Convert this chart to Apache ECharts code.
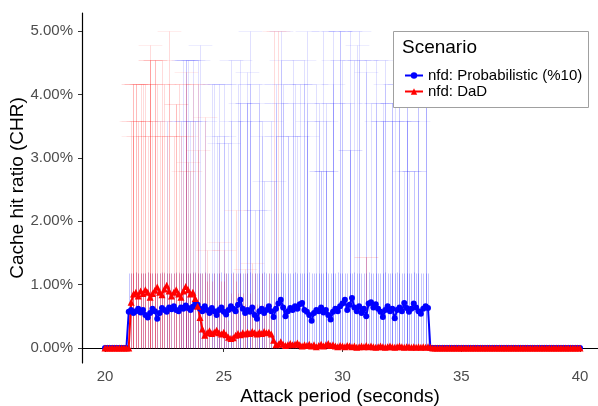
<!DOCTYPE html>
<html>
<head>
<meta charset="utf-8">
<script src="https://cdn.jsdelivr.net/npm/echarts@6/dist/echarts.min.js"></script>
<style>
html, body { margin: 0; padding: 0; background: #fff; }
#chart { width: 598px; height: 406px; }
</style>
</head>
<body>
<div id="chart"></div>
<script>
// sampling grid of both runs (seconds)
var startTime = 20;
var timeStep = 0.1;
var xTicks = [20, 25, 30, 35, 40];
var yTicks = [0, 1, 2, 3, 4, 5];
var seriesNames = ['nfd: Probabilistic (%10)', 'nfd: DaD'];

// mean CHR in %, one value per sample 20.0 .. 40.0
var probMean = [
    0, 0, 0, 0, 0, 0, 0, 0, 0, 0,
    0.57,
    0.60, 0.55, 0.58, 0.62, 0.56, 0.60, 0.52, 0.48, 0.55, 0.62,
    0.58, 0.46, 0.55, 0.63, 0.60, 0.57, 0.64, 0.61, 0.66, 0.60,
    0.58, 0.64, 0.62, 0.67, 0.63, 0.60, 0.65, 0.71, 0.68, 0.62,
    0.58, 0.66, 0.60, 0.55, 0.63, 0.58, 0.52, 0.60, 0.64, 0.57,
    0.53, 0.60, 0.66, 0.62, 0.58, 0.68, 0.76, 0.62, 0.55, 0.60,
    0.57, 0.64, 0.52, 0.46, 0.58, 0.62, 0.55, 0.60, 0.66, 0.58,
    0.49, 0.62, 0.70, 0.76, 0.64, 0.50, 0.58, 0.63, 0.60, 0.66,
    0.62, 0.69, 0.71, 0.60, 0.57, 0.52, 0.43, 0.55, 0.60, 0.58,
    0.64, 0.56, 0.60, 0.52, 0.45, 0.57, 0.62, 0.58, 0.66, 0.70,
    0.76, 0.60, 0.68, 0.79, 0.64, 0.58, 0.66, 0.55, 0.62, 0.50,
    0.70, 0.72, 0.64, 0.69, 0.62, 0.57, 0.49, 0.60, 0.66, 0.58,
    0.62, 0.47, 0.60, 0.64, 0.58, 0.71, 0.63, 0.57, 0.62, 0.70,
    0.64, 0.58, 0.54, 0.62, 0.66, 0.63,
    0, 0, 0, 0, 0, 0, 0, 0, 0, 0,
    0, 0, 0, 0, 0, 0, 0, 0, 0, 0,
    0, 0, 0, 0, 0, 0, 0, 0, 0, 0,
    0, 0, 0, 0, 0, 0, 0, 0, 0, 0,
    0, 0, 0, 0, 0, 0, 0, 0, 0, 0,
    0, 0, 0, 0, 0, 0, 0, 0, 0, 0,
    0, 0, 0, 0
];

var dadMean = [
    0, 0, 0, 0, 0, 0, 0, 0, 0, 0, 0,
    0.72, 0.85, 0.88, 0.82, 0.90, 0.86, 0.92, 0.88, 0.80, 0.86,
    0.91, 0.96, 0.88, 0.84, 0.93, 0.99, 0.90, 0.82, 0.88, 0.92,
    0.85, 0.80, 0.90, 0.97, 0.92, 0.85, 0.88, 0.78, 0.66, 0.48,
    0.30, 0.20, 0.24, 0.27, 0.23, 0.25, 0.28, 0.24, 0.22, 0.25,
    0.21, 0.17, 0.15, 0.16, 0.20, 0.23, 0.21, 0.24, 0.22, 0.25,
    0.23, 0.26, 0.24, 0.22, 0.25, 0.23, 0.26, 0.24, 0.25, 0.22,
    0.12, 0.05, 0.06, 0.10, 0.06, 0.04, 0.05, 0.07, 0.05, 0.06,
    0.08, 0.05, 0.03, 0.05, 0.04, 0.06, 0.03, 0.05, 0.02, 0.04,
    0.06, 0.03, 0.05, 0.07, 0.04, 0.05, 0.03, 0.02, 0.04, 0.03,
    0.02, 0.04, 0.03, 0.02, 0.03, 0.01, 0.02, 0.03, 0.02, 0.04,
    0.02, 0.03, 0.02, 0.01, 0.02, 0.03, 0.02, 0.01, 0.02, 0.03,
    0.02, 0.01, 0.02, 0.03, 0.02, 0.01, 0.02, 0.02, 0.01, 0.02,
    0.01, 0.02, 0.01, 0.02, 0.01, 0.02,
    0.01,
    0, 0, 0, 0, 0, 0, 0, 0, 0, 0,
    0, 0, 0, 0, 0, 0, 0, 0, 0, 0,
    0, 0, 0, 0, 0, 0, 0, 0, 0, 0,
    0, 0, 0, 0, 0, 0, 0, 0, 0, 0,
    0, 0, 0, 0, 0, 0, 0, 0, 0, 0,
    0, 0, 0, 0, 0, 0, 0, 0, 0, 0,
    0, 0, 0
];

// upper end of the per-sample error bar (lower end is 0), starting at the given time
var probUpperStart = 21.0;
var probUpper = [
    1.18, 1.19, 1.19, 1.20, 1.19, 1.18, 1.19, 1.19, 1.20, 1.19,
    1.19, 1.18, 1.19, 1.19, 1.20, 1.19, 1.19, 1.18, 1.19, 1.19,
    1.20, 1.19, 1.19, 1.18, 1.19, 1.19, 1.19, 1.20, 1.19, 1.18,
    1.19, 1.19, 1.20, 1.19, 1.19, 1.18, 1.19, 1.19, 1.19, 1.20,
    1.19, 1.18, 1.19, 1.19, 1.20, 1.19, 1.19, 1.19, 1.18, 1.19,
    1.19, 1.20, 1.19, 1.19, 1.18, 1.19, 1.19, 1.20, 1.19, 1.19,
    1.18, 1.19, 1.19, 1.19, 1.20, 1.19, 1.18, 1.19, 1.19, 1.19,
    1.20, 1.19, 1.19, 1.18, 1.19, 1.19, 1.20, 1.19, 1.19, 1.18,
    1.19, 1.19, 1.19, 1.20, 1.19, 1.18, 1.19, 1.19, 1.20, 1.19,
    1.19, 1.18, 1.19, 1.19, 1.19, 1.20, 1.19, 1.19, 1.18, 1.19,
    1.19, 1.20, 1.19, 1.19, 1.18, 1.19, 1.19, 1.19, 1.20, 1.19,
    1.18, 1.19, 1.19, 1.20, 1.19, 1.19, 1.18, 1.19, 1.19, 1.19,
    1.20, 1.19, 1.18, 1.19, 1.19, 1.19, 1.19
];
var dadUpperStart = 21.1;
var dadUpper = [
    1.19, 1.19, 1.20, 1.19, 1.18, 1.19, 1.19, 1.20, 1.19, 1.19,
    1.18, 1.19, 1.19, 1.19, 1.20, 1.19, 1.19, 1.18, 1.19, 1.19,
    1.20, 1.19, 1.19, 1.18, 1.19, 1.19, 1.19, 1.20, 1.19, 1.19,
    1.19, 1.19, 1.06, 1.19, 1.06, 1.19, 0.75, 1.19, 1.06, 1.06,
    1.19, 0.44, 0.87, 1.19, 1.06, 0.87, 1.19, 0.87, 0.70, 1.19,
    0.87, 0.70, 1.19, 0.70, 0.70, 1.19, 0.70, 0.70, 1.19, 0.70
];

// extra, taller bars from the spread of the runs: [time, upper]
var probTallBars = [
    [26.1, 5.0], [24.0, 4.78],
    [23.3, 4.55], [23.4, 4.55], [23.4, 4.55], [23.5, 4.55], [23.7, 4.55], [23.9, 4.55], [25.3, 4.55], [25.7, 4.55],
    [26.0, 4.36],
    [24.5, 4.17], [24.6, 4.17], [24.8, 4.17], [25.0, 4.17], [25.6, 4.17], [26.1, 4.17], [26.5, 4.17],
    [25.7, 3.86], [26.0, 3.86], [26.0, 3.86], [26.5, 3.86],
    [22.6, 3.58], [23.2, 3.58], [23.4, 3.58], [23.6, 3.58], [23.8, 3.58], [24.2, 3.58], [25.3, 3.58], [25.7, 3.58],
    [26.1, 3.58], [26.6, 3.58], [27.0, 3.58],
    [24.7, 3.34], [25.0, 3.34], [26.6, 3.34],
    [24.8, 3.23], [25.2, 3.23],
    [26.7, 2.63], [26.5, 2.17], [26.3, 2.17],
    [27.4, 5.0], [28.5, 5.0], [29.2, 5.0], [29.6, 5.0], [29.9, 5.0], [29.9, 5.0], [30.3, 5.0], [30.7, 5.0],
    [30.6, 4.78],
    [27.4, 4.55], [27.9, 4.55], [28.4, 4.55], [29.6, 4.55], [30.0, 4.55], [30.5, 4.55], [30.7, 4.55], [31.0, 4.55],
    [31.4, 4.55], [31.8, 4.55],
    [31.0, 4.36],
    [27.2, 4.17], [27.5, 4.17], [28.0, 4.17], [28.2, 4.17], [28.4, 4.17], [28.9, 4.17], [29.6, 4.17], [31.8, 4.17],
    [32.2, 4.17], [32.4, 4.17], [32.7, 4.17], [33.2, 4.17], [33.5, 4.17],
    [27.2, 3.86], [27.5, 3.86], [27.9, 3.86], [28.5, 3.86], [29.0, 3.86], [29.3, 3.86], [29.6, 3.86], [30.0, 3.86],
    [30.3, 3.86], [31.2, 3.86], [31.4, 3.86], [31.7, 3.86], [32.1, 3.86], [32.1, 3.86], [32.4, 3.86], [32.7, 3.86],
    [33.2, 3.86], [33.5, 3.86], [33.5, 3.86],
    [28.5, 3.58], [29.0, 3.58], [29.3, 3.58], [31.4, 3.58], [31.7, 3.58], [31.7, 3.58], [32.1, 3.58], [32.4, 3.58],
    [32.7, 3.58], [32.7, 3.58], [33.2, 3.58],
    [27.2, 3.34], [27.7, 3.34], [27.7, 3.34], [28.1, 3.34], [28.5, 3.34],
    [30.3, 3.13], [30.3, 3.13],
    [29.1, 2.79], [29.1, 2.79], [29.3, 2.79], [29.3, 2.79], [32.6, 2.79], [32.8, 2.79], [33.0, 2.79], [33.0, 2.79],
    [27.1, 2.63]
];
var dadTallBars = [
    [21.1, 3.58], [21.2, 4.17], [21.2, 4.17], [21.2, 3.58], [21.2, 3.34], [21.3, 4.17], [21.3, 4.17], [21.4, 3.58],
    [21.4, 3.34], [21.5, 4.17], [21.5, 3.58], [21.6, 4.17], [21.7, 4.17], [21.7, 3.58], [21.8, 3.34], [21.9, 4.78],
    [21.9, 4.55], [21.9, 4.55], [21.9, 4.17], [22.0, 3.58], [22.1, 4.55], [22.1, 4.55], [22.1, 3.34], [22.2, 4.17],
    [22.3, 3.58], [22.4, 4.55], [22.4, 3.34], [22.5, 4.17], [22.6, 3.34], [22.7, 5.0], [22.7, 4.17], [22.9, 3.34],
    [23.0, 3.85], [23.0, 3.85], [23.1, 4.17], [23.2, 3.34], [23.3, 2.79], [23.4, 4.36], [23.4, 4.17], [23.4, 3.34],
    [23.5, 2.94], [23.6, 2.79], [23.7, 4.17], [23.9, 4.17], [23.9, 3.13], [24.2, 3.64], [24.3, 1.55], [24.8, 1.67],
    [25.0, 1.55], [25.5, 2.17], [25.9, 1.24], [26.2, 1.34], [27.1, 5.0], [27.3, 5.0], [31.0, 1.44], [31.0, 1.44]
];

function sampleTime(i, t0) {
    return Math.round((t0 + i * timeStep) * 10) / 10;
}
function seriesPoints(values, t0) {
    var pts = [];
    for (var i = 0; i < values.length; i++) {
        pts.push([sampleTime(i, t0), values[i]]);
    }
    return pts;
}

/*error bar: vertical line from 0 to upper, optional 1 s wide cap on top*/
function barRenderer(color, lineOpacity, capOpacity) {
    return function (params, api) {
        var t = api.value(0);
        var top = api.value(1);
        var pBottom = api.coord([t, 0]);
        var pTop = api.coord([t, top]);
        var half = api.size([0.5, 0])[0];
        var x = Math.round(pBottom[0]) + 0.5;
        var yb = Math.round(pBottom[1]) + 0.5;
        var yt = Math.round(pTop[1]) + 0.5;
        var kids = [
            { type: 'line', shape: { x1: x, y1: yb, x2: x, y2: yt },
              style: { stroke: color, lineWidth: 1, opacity: lineOpacity } }
        ];
        if (capOpacity > 0) {
            kids.push({ type: 'line', shape: { x1: x - half, y1: yt, x2: x + half, y2: yt },
                        style: { stroke: color, lineWidth: 1, opacity: capOpacity } });
        }
        return { type: 'group', children: kids };
    };
}

var fontName = 'Liberation Sans';
var myChart = echarts.init(document.getElementById('chart'));
var option = {
    animation: false,
    backgroundColor: '#fff',
    grid: { left: 82, right: 0, top: 13, bottom: 43, outerBoundsMode: 'none', containLabel: false },
    xAxis: {
        type: 'value',
        min: 19.032,
        max: 40.758,
        name: 'Attack period (seconds)',
        nameLocation: 'middle',
        nameGap: 24,
        nameMoveOverlap: false,
        nameTextStyle: { fontFamily: fontName, fontSize: 19, color: '#000' },
        splitLine: { show: false },
        axisLine: { lineStyle: { color: '#000', width: 1.2 } },
        axisTick: { customValues: xTicks, length: 4, lineStyle: { color: '#333' } },
        axisLabel: {
            customValues: xTicks,
            margin: 6,
            fontFamily: fontName, fontSize: 15, color: '#4d4d4d'
        }
    },
    yAxis: {
        type: 'value',
        min: -0.237,
        max: 5.284,
        name: 'Cache hit ratio (CHR)',
        nameLocation: 'middle',
        nameGap: 55,
        nameMoveOverlap: false,
        nameTextStyle: { fontFamily: fontName, fontSize: 19, color: '#000' },
        splitLine: { show: false },
        axisLine: { show: true, lineStyle: { color: '#000', width: 1.2 } },
        axisTick: { show: true, customValues: yTicks, length: 4, lineStyle: { color: '#333' } },
        axisLabel: {
            customValues: yTicks,
            margin: 9,
            fontFamily: fontName, fontSize: 15, color: '#4d4d4d',
            formatter: function (v) { return v.toFixed(2) + '%'; }
        }
    },
    legend: {
        data: seriesNames,
        orient: 'vertical',
        left: 404,
        top: 68,
        padding: 0,
        itemGap: 1,
        itemWidth: 18,
        itemHeight: 8,
        z: 4,
        textStyle: { fontFamily: fontName, fontSize: 15, color: '#000', lineHeight: 15 }
    },
    graphic: [
        {
            type: 'rect', z: 3,
            shape: { x: 393.5, y: 31.5, width: 195, height: 76 },
            style: { fill: '#fff', stroke: '#a0a0a0', lineWidth: 1 }
        },
        {
            type: 'text', z: 5, x: 402, y: 48,
            style: { text: 'Scenario', fontFamily: fontName, fontSize: 19, fill: '#000', verticalAlign: 'middle' }
        }
    ],
    series: [
        {
            type: 'custom', name: 'probBase', z: 1, silent: true,
            renderItem: barRenderer('#0000ff', 0.22, 0),
            data: seriesPoints(probUpper, probUpperStart)
        },
        {
            type: 'custom', name: 'dadBase', z: 1, silent: true,
            renderItem: barRenderer('#ff0000', 0.22, 0),
            data: seriesPoints(dadUpper, dadUpperStart)
        },
        {
            type: 'custom', name: 'probTall', z: 1, silent: true,
            renderItem: barRenderer('#0000ff', 0.12, 0.07),
            data: probTallBars
        },
        {
            type: 'custom', name: 'dadTall', z: 1, silent: true,
            renderItem: barRenderer('#ff0000', 0.14, 0.07),
            data: dadTallBars
        },
        {
            type: 'line', name: seriesNames[0], z: 2,
            data: seriesPoints(probMean, startTime),
            symbol: 'circle', symbolSize: 6,
            itemStyle: { color: '#0000ff' },
            lineStyle: { color: '#0000ff', width: 2 }
        },
        {
            type: 'line', name: seriesNames[1], z: 2,
            data: seriesPoints(dadMean, startTime),
            symbol: 'triangle', symbolSize: 7,
            itemStyle: { color: '#ff0000' },
            lineStyle: { color: '#ff0000', width: 2 }
        }
    ]
};
myChart.setOption(option);
</script>
</body>
</html>
